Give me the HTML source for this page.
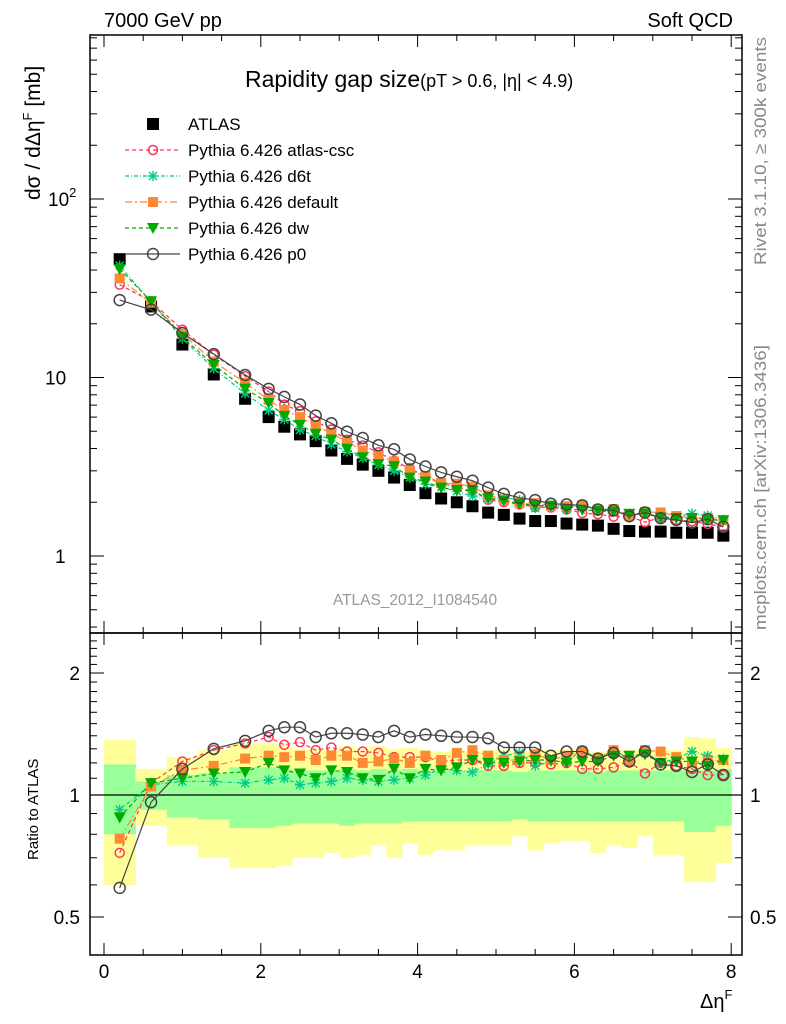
<!DOCTYPE html>
<html><head><meta charset="utf-8"><style>
body{margin:0;background:#fff;}
svg{display:block;font-family:"Liberation Sans",sans-serif;}
</style></head><body>
<svg id="c" width="786" height="1024" xmlns="http://www.w3.org/2000/svg"></svg>
<script>
const xs=[0.2,0.6,1.0,1.4,1.8,2.1,2.3,2.5,2.7,2.9,3.1,3.3,3.5,3.7,3.9,4.1,4.3,4.5,4.7,4.9,5.1,5.3,5.5,5.7,5.9,6.1,6.3,6.5,6.7,6.9,7.1,7.3,7.5,7.7,7.9];
const binEdges=[0,0.4,0.8,1.2,1.6,2.0,2.2,2.4,2.6,2.8,3.0,3.2,3.4,3.6,3.8,4.0,4.2,4.4,4.6,4.8,5.0,5.2,5.4,5.6,5.8,6.0,6.2,6.4,6.6,6.8,7.0,7.2,7.4,7.6,7.8,8.0];
const atlas=[46,25,15.3,10.4,7.6,6.0,5.3,4.8,4.4,3.9,3.5,3.25,3.0,2.75,2.5,2.25,2.1,2.0,1.9,1.75,1.7,1.62,1.57,1.57,1.52,1.5,1.48,1.42,1.38,1.37,1.37,1.35,1.35,1.35,1.3];
const rCsc=[0.72,1.07,1.21,1.29,1.34,1.39,1.33,1.35,1.29,1.31,1.28,1.28,1.27,1.24,1.24,1.24,1.21,1.22,1.22,1.18,1.18,1.20,1.20,1.19,1.20,1.16,1.16,1.17,1.21,1.13,1.20,1.18,1.16,1.12,1.12];
const rD6t=[0.92,1.06,1.08,1.08,1.07,1.09,1.10,1.06,1.07,1.08,1.10,1.09,1.08,1.09,1.10,1.12,1.16,1.15,1.14,1.19,1.25,1.27,1.18,1.21,1.21,1.29,1.23,1.29,1.23,1.28,1.20,1.23,1.28,1.25,1.23];
const rDef=[0.78,1.05,1.15,1.18,1.23,1.25,1.24,1.25,1.22,1.25,1.25,1.20,1.21,1.23,1.20,1.25,1.22,1.27,1.29,1.25,1.22,1.22,1.26,1.22,1.25,1.28,1.23,1.29,1.22,1.29,1.28,1.24,1.21,1.21,1.22];
const rDw=[0.88,1.07,1.10,1.13,1.14,1.20,1.15,1.13,1.10,1.15,1.14,1.10,1.09,1.16,1.10,1.16,1.15,1.17,1.22,1.20,1.20,1.21,1.22,1.22,1.20,1.21,1.21,1.25,1.25,1.26,1.20,1.21,1.21,1.18,1.22];
const rP0=[0.59,0.96,1.16,1.30,1.36,1.44,1.47,1.47,1.39,1.42,1.42,1.41,1.39,1.44,1.39,1.41,1.40,1.39,1.39,1.38,1.31,1.31,1.31,1.25,1.28,1.28,1.23,1.27,1.21,1.28,1.19,1.18,1.14,1.19,1.12];
const yelHi=[1.37,1.16,1.24,1.29,1.34,1.34,1.33,1.30,1.30,1.30,1.32,1.30,1.32,1.30,1.31,1.29,1.28,1.29,1.28,1.29,1.29,1.28,1.29,1.29,1.29,1.29,1.28,1.29,1.29,1.29,1.29,1.29,1.39,1.38,1.31];
const yelLo=[0.60,0.84,0.75,0.70,0.66,0.66,0.67,0.70,0.70,0.72,0.70,0.71,0.75,0.70,0.76,0.71,0.73,0.73,0.75,0.75,0.75,0.79,0.73,0.76,0.77,0.77,0.72,0.75,0.74,0.79,0.71,0.71,0.61,0.61,0.68];
const grnHi=[1.19,1.08,1.12,1.13,1.17,1.17,1.16,1.15,1.15,1.15,1.16,1.15,1.16,1.15,1.16,1.15,1.15,1.15,1.15,1.15,1.15,1.14,1.15,1.15,1.15,1.15,1.14,1.15,1.15,1.15,1.15,1.15,1.15,1.15,1.16];
const grnLo=[0.80,0.92,0.88,0.87,0.83,0.83,0.84,0.85,0.85,0.85,0.84,0.85,0.85,0.85,0.86,0.86,0.86,0.86,0.86,0.86,0.86,0.87,0.86,0.86,0.86,0.86,0.86,0.86,0.86,0.86,0.86,0.86,0.81,0.81,0.84];
const xTicks=[0,2,4,6,8];

const S=document.getElementById('c'),NS='http://www.w3.org/2000/svg';
function el(t,a,p){const e=document.createElementNS(NS,t);for(const k in a)e.setAttribute(k,a[k]);(p||S).appendChild(e);return e;}
const L=90,R=742,T=35,MB=633,RB=955;
const X=v=>104+v*78.4;
const Y=v=>556-Math.log10(v)*178.5;
const YR=v=>795-Math.log2(v)*122;

const bg=el('g',{});


for(let i=0;i<xs.length;i++){
  const x0=X(binEdges[i]),x1=X(binEdges[i+1]);
  const y=el('rect',{x:x0,y:YR(yelHi[i]),width:x1-x0+0.5,height:YR(yelLo[i])-YR(yelHi[i]),fill:'#ffff99'},bg);
  
  
  const g=el('rect',{x:x0,y:YR(grnHi[i]),width:x1-x0+0.5,height:YR(grnLo[i])-YR(grnHi[i]),fill:'#99ff99'},bg);
  
  
}
el('line',{x1:L,x2:R,y1:YR(1),y2:YR(1),stroke:'#000','stroke-width':1.2});

el('rect',{x:L,y:T,width:R-L,height:MB-T,fill:'none',stroke:'#000','stroke-width':1.5});
el('rect',{x:L,y:MB,width:R-L,height:RB-MB,fill:'none',stroke:'#000','stroke-width':1.5});

for(let v=0;v<=8.001;v+=0.5){
  const maj=Math.abs(v-Math.round(v/2)*2)<1e-6, len=maj?12:6;
  [T,MB].forEach(t=>el('line',{x1:X(v),x2:X(v),y1:t,y2:t+len,stroke:'#000'}));
  [MB,RB].forEach(b=>el('line',{x1:X(v),x2:X(v),y1:b,y2:b-len,stroke:'#000'}));
}
xTicks.forEach(v=>{const t=el('text',{x:X(v),y:978,'font-size':19,'text-anchor':'middle'});t.textContent=v;
});
for(let d=-1;d<=2;d++)for(let m=1;m<10;m++){const v=m*Math.pow(10,d);const y=Y(v);if(y<T||y>MB)continue;
 const len=m==1?14:7;el('line',{x1:L,x2:L+len,y1:y,y2:y,stroke:'#000'});el('line',{x1:R,x2:R-len,y1:y,y2:y,stroke:'#000'});}
[[100,'10'],[10,'10'],[1,'1']].forEach(([v,s],i)=>{const t=el('text',{x:i==0?48:i==1?45:55,y:Y(v)+7,'font-size':19});t.textContent=s;
 if(i==0){const s2=el('tspan',{'font-size':13,dy:-9});s2.textContent='2';t.appendChild(s2);}
 });
for(let v=0.5;v<=2.5;v+=0.1){const y=YR(v);if(y<MB||y>RB)continue;const maj=[0.5,1,2].some(a=>Math.abs(a-v)<1e-6);const len=maj?14:7;
 el('line',{x1:L,x2:L+len,y1:y,y2:y,stroke:'#000'});el('line',{x1:R,x2:R-len,y1:y,y2:y,stroke:'#000'});}
[[2,'2'],[1,'1'],[0.5,'0.5']].forEach(([v,s])=>{
 const a=el('text',{x:80,y:YR(v)+7,'font-size':19,'text-anchor':'end'});a.textContent=s;
 
 const b=el('text',{x:750,y:YR(v)+7,'font-size':19});b.textContent=s;
 });

const series=[
 {n:'atlas-csc',r:rCsc,c:'#ff3355',d:'4,3',m:'circ'},
 {n:'d6t',r:rD6t,c:'#00cc88',d:'4,2,1,2',m:'star'},
 {n:'default',r:rDef,c:'#ff8833',d:'7,3,2,3',m:'sq'},
 {n:'dw',r:rDw,c:'#00aa00',d:'4,3',m:'tri'},
 {n:'p0',r:rP0,c:'#444444',d:'',m:'ocirc'}];
function marker(m,x,y,c,g){
 if(m=='circ')return el('circle',{cx:x,cy:y,r:4.5,fill:'none',stroke:c,'stroke-width':1.5},g);
 if(m=='ocirc')return el('circle',{cx:x,cy:y,r:5.5,fill:'none',stroke:c,'stroke-width':1.5},g);
 if(m=='sq')return el('rect',{x:x-5,y:y-5,width:10,height:10,fill:c},g);
 if(m=='tri')return el('path',{d:`M${x-6},${y-5}L${x+6},${y-5}L${x},${y+6}Z`,fill:c},g);
 if(m=='star')return el('path',{d:`M${x-5},${y}H${x+5}M${x},${y-5}V${y+5}M${x-4},${y-4}L${x+4},${y+4}M${x-4},${y+4}L${x+4},${y-4}`,stroke:c,'stroke-width':1.4},g);
 if(m=='atlas')return el('rect',{x:x-6,y:y-6,width:12,height:12,fill:'#000'},g);
}
const ag=el('g',{});


xs.forEach((x,i)=>marker('atlas',X(x),Y(atlas[i]),'#000',ag));
series.forEach(s=>{
 const mainVals=atlas.map((a,i)=>a*s.r[i]);
 const g=el('g',{});
 
 
 [[mainVals,Y],[s.r,YR]].forEach(([vals,fy])=>{
  el('polyline',{points:xs.map((x,i)=>X(x)+','+fy(vals[i])).join(' '),fill:'none',stroke:s.c,'stroke-width':1.2,'stroke-dasharray':s.d},g);
  xs.forEach((x,i)=>marker(s.m,X(x),fy(vals[i]),s.c,g));
 });
});

const leg=[['ATLAS','#000','','atlas'],['Pythia 6.426 atlas-csc','#ff3355','4,3','circ'],['Pythia 6.426 d6t','#00cc88','4,2,1,2','star'],['Pythia 6.426 default','#ff8833','7,3,2,3','sq'],['Pythia 6.426 dw','#00aa00','4,3','tri'],['Pythia 6.426 p0','#444444','','ocirc']];
leg.forEach((l,i)=>{const y=124+i*26;const g=el('g',{});
 
 
 if(i>0)el('line',{x1:125,x2:180,y1:y,y2:y,stroke:l[1],'stroke-width':1.2,'stroke-dasharray':l[2]},g);
 marker(l[3],153,y,l[1],g);
 const t=el('text',{x:188,y:y+6,'font-size':17},g);t.textContent=l[0];});

function txt(x,y,s,a,name){const t=el('text',Object.assign({x:x,y:y},a));t.textContent=s;return t;}
txt(104,27,'7000 GeV pp',{'font-size':20},'energy-label');
txt(733,27,'Soft QCD',{'font-size':20,'text-anchor':'end'},'process-label');
const tt=txt(245,87,'Rapidity gap size',{'font-size':23},'plot-title');
const ts=el('tspan',{'font-size':18});ts.textContent='(pT > 0.6, |η| < 4.9)';tt.appendChild(ts);
txt(415,605,'ATLAS_2012_I1084540',{'font-size':15.5,fill:'#999','text-anchor':'middle'},'analysis-id');
const yt=txt(0,0,'dσ / dΔη',{'font-size':21,transform:'translate(40,200) rotate(-90)'},'y-axis-title');
const sup=el('tspan',{'font-size':13,dy:-8});sup.textContent='F';yt.appendChild(sup);
const rest=el('tspan',{dy:8});rest.textContent=' [mb]';yt.appendChild(rest);
txt(0,0,'Ratio to ATLAS',{'font-size':15,transform:'translate(38,860) rotate(-90)'},'ratio-axis-title');
const xt=txt(700,1008,'Δη',{'font-size':20},'x-axis-title');
const xs2=el('tspan',{'font-size':13,dy:-9});xs2.textContent='F';xt.appendChild(xs2);
txt(0,0,'Rivet 3.1.10, ≥ 300k events',{'font-size':17,fill:'#888',transform:'translate(766,265) rotate(-90)',textLength:228,lengthAdjust:'spacingAndGlyphs'},'rivet-version');
txt(0,0,'mcplots.cern.ch [arXiv:1306.3436]',{'font-size':17,fill:'#888',transform:'translate(766,630) rotate(-90)',textLength:285,lengthAdjust:'spacingAndGlyphs'},'mcplots-credit');
</script>
</body></html>
